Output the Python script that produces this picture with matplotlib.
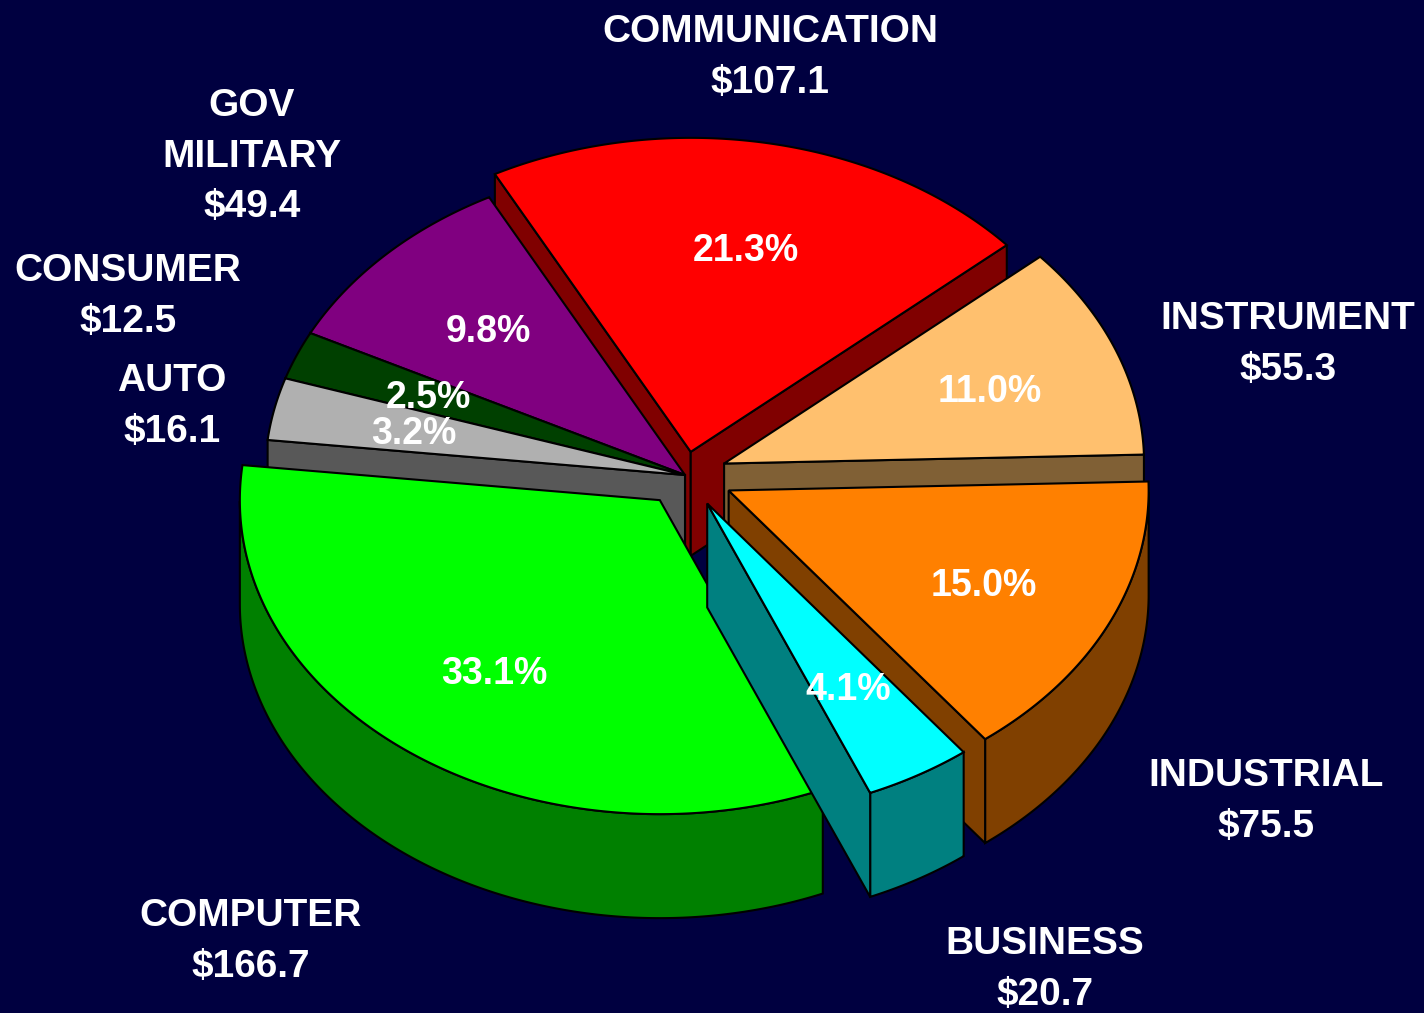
import numpy as np
import matplotlib.pyplot as plt
from matplotlib.patches import Polygon

plt.rcParams['font.family'] = ['Liberation Sans', 'DejaVu Sans']

# slices, clockwise from the top
names = ['COMMUNICATION', 'INSTRUMENT', 'INDUSTRIAL', 'BUSINESS',
         'COMPUTER', 'AUTO', 'CONSUMER', 'GOV\nMILITARY']
values = [107.1, 55.3, 75.5, 20.7, 166.7, 16.1, 12.5, 49.4]

top_colors = ['#ff0000', '#ffc06e', '#ff8000', '#00ffff',
              '#00ff00', '#b0b0b0', '#004000', '#800080']
side_colors = ['#800000', '#806035', '#804000', '#008080',
               '#008000', '#585858', '#002000', '#400040']
explode = [0.075, 0.1, 0.115, 0.105, 0.1, 0.0, 0.0, 0.0]

# label places (pixel coords, cap centre of first line)
name_pos = [(770, 28), (1288, 315), (1266, 772), (1045, 940),
            (251, 912), (172, 377), (128, 267), (252, 102)]
pct_pos = [(746, 247), (990, 388), (984, 582), (848, 686),
           (494, 670), (414, 430), (428, 394), (488, 328)]

bg = '#000040'
cx, cy = 685, 475      # pie centre
a, b = 420, 314        # ellipse radii
h = 104                # thickness
start = 117.8          # degrees

fig = plt.figure(figsize=(14.24, 10.13), dpi=100, facecolor=bg)
ax = fig.add_axes([0, 0, 1, 1])
ax.set_facecolor(bg)
ax.set_xlim(0, 1424)
ax.set_ylim(1013, 0)
ax.axis('off')

fracs = np.array(values) / sum(values)
edges = start - 360 * np.concatenate([[0], np.cumsum(fracs)])
mids = (edges[:-1] + edges[1:]) / 2

lw = 1.5
order = np.argsort(-np.sin(np.radians(mids)))  # back to front
for i in order:
    t1, t2 = edges[i], edges[i + 1]
    m = np.radians(mids[i])
    ox = cx + explode[i] * a * np.cos(m)
    oy = cy - explode[i] * b * np.sin(m)
    ts = np.radians(np.linspace(t1, t2, 200))
    xs = ox + a * np.cos(ts)
    ys = oy - b * np.sin(ts)

    # outer wall (front part only)
    front = np.sin(ts) < 0
    if front.sum() > 1:
        fx, fy = xs[front], ys[front]
        pts = np.column_stack([np.concatenate([fx, fx[::-1]]),
                               np.concatenate([fy, fy[::-1] + h])])
        ax.add_patch(Polygon(pts, closed=True, fc=side_colors[i], ec='black', lw=lw))

    # cut faces
    for t, sgn in [(t1, 1), (t2, -1)]:
        if np.sin(np.radians(t + 90 * sgn)) < 0:
            ex = ox + a * np.cos(np.radians(t))
            ey = oy - b * np.sin(np.radians(t))
            pts = [(ox, oy), (ex, ey), (ex, ey + h), (ox, oy + h)]
            ax.add_patch(Polygon(pts, closed=True, fc=side_colors[i], ec='black', lw=lw))

    # top face
    pts = np.column_stack([np.concatenate([[ox], xs]), np.concatenate([[oy], ys])])
    ax.add_patch(Polygon(pts, closed=True, fc=top_colors[i], ec='black', lw=lw, joinstyle='miter'))

# percentage labels
for i, v in enumerate(values):
    pct = 100 * v / sum(values)
    ax.text(pct_pos[i][0], pct_pos[i][1], f'{pct:.1f}%', color='white',
            fontsize=27, fontweight='bold', ha='center', va='center_baseline')

# category labels
for i, v in enumerate(values):
    lines = names[i].split('\n') + [f'${v:.1f}']
    x0, y0 = name_pos[i]
    for k, line in enumerate(lines):
        ax.text(x0, y0 + k * 50.5 + 14, line, color='white', fontsize=28,
                fontweight='bold', ha='center', va='baseline')

fig.savefig('out.png', dpi=100, facecolor=bg)
